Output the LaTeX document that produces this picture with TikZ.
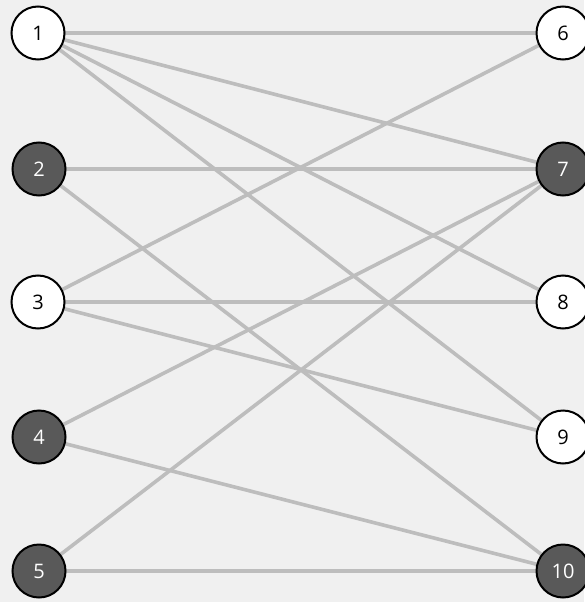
\documentclass[tikz,border=0pt]{standalone}
\usepackage{fontspec}
\setmainfont{Open Sans}
\definecolor{bg}{HTML}{F0F0F0}
\definecolor{edgec}{HTML}{BDBDBD}
\definecolor{dark}{HTML}{595959}
\begin{document}
\begin{tikzpicture}[x=1pt,y=-1pt,
  vtx/.style={circle,draw=black,line width=2pt,minimum size=53pt,inner sep=0pt,font=\fontsize{20}{20}\selectfont},
  lightv/.style={vtx,fill=white,text=black},
  darkv/.style={vtx,fill=dark,text=white},
  edge/.style={draw=edgec,line width=3.6pt}]
\fill[bg] (0,0) rectangle (584,602);
\useasboundingbox (0,0) rectangle (584,602);
\path (38,33) coordinate (c1) (39,169) coordinate (c2) (38,302) coordinate (c3) (39,437) coordinate (c4) (39,571) coordinate (c5)
      (563,33) coordinate (c6) (563,169) coordinate (c7) (563,302) coordinate (c8) (563,437) coordinate (c9) (563,571) coordinate (c10);
\foreach \a/\b in {1/6,1/7,1/8,1/9,2/7,2/10,3/6,3/8,3/9,4/7,4/10,5/7,5/10}
  \draw[edge] (c\a) -- (c\b);
\node[lightv] (n1) at (c1) {1};
\node[darkv] (n2) at (c2) {2};
\node[lightv] (n3) at (c3) {3};
\node[darkv] (n4) at (c4) {4};
\node[darkv] (n5) at (c5) {5};
\node[lightv] (n6) at (c6) {6};
\node[darkv] (n7) at (c7) {7};
\node[lightv] (n8) at (c8) {8};
\node[lightv] (n9) at (c9) {9};
\node[darkv] (n10) at (c10) {10};
\end{tikzpicture}
\end{document}
